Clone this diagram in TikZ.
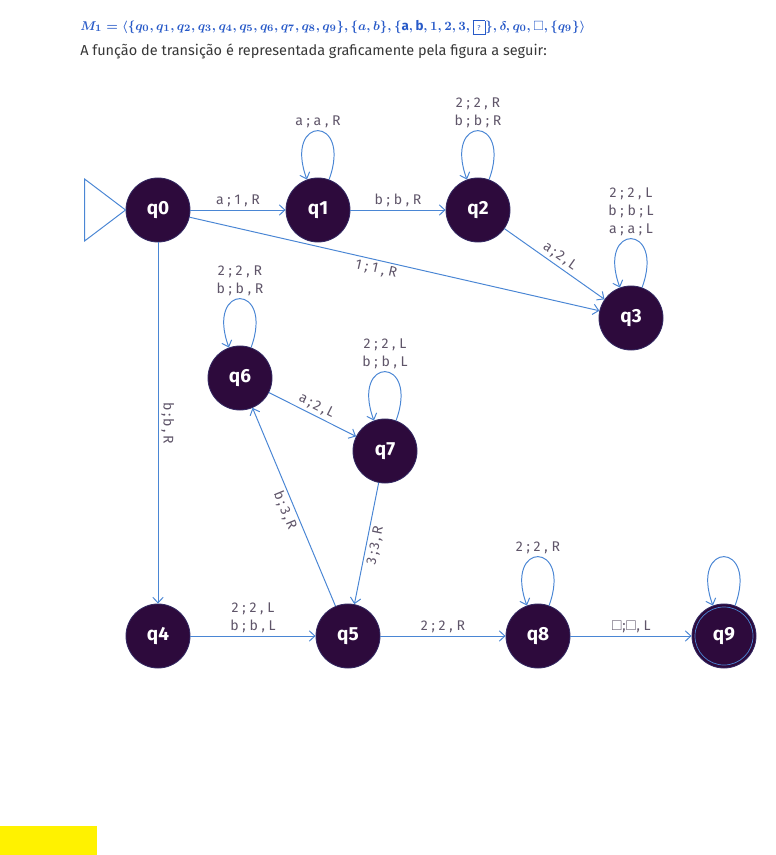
\documentclass[tikz,border=0pt]{standalone}
\usepackage{amsmath,amssymb}
\usepackage{fontspec}
\setmainfont{Fira Sans}
\usepackage{tikz}
\usetikzlibrary{arrows.meta,positioning}
\definecolor{statefill}{RGB}{45,10,60}
\definecolor{edgeblue}{RGB}{74,134,212}
\definecolor{lblgray}{RGB}{95,85,105}
\definecolor{hdrblue}{RGB}{40,90,200}
\definecolor{txtgray}{RGB}{55,55,55}
\tikzset{
  state/.style={circle, draw=statefill!75!edgeblue, line width=0.6pt, fill=statefill,
    text=white, font=\fontsize{13.5}{15}\selectfont\bfseries, minimum size=1.6cm, inner sep=0pt},
  flow/.style={-{Straight Barb[length=1.4mm,width=2.6mm]}, line width=0.7pt, draw=edgeblue},
  lbl/.style={font=\fontsize{10}{12.8}\selectfont, text=lblgray, align=center, inner sep=2pt},
  looptop/.style={out=70, in=110, min distance=8mm, looseness=8}
}
\begin{document}
\begin{tikzpicture}[x=0.025cm, y=-0.025cm]
        \useasboundingbox (0,0) rectangle (776,855);
        % header
        \node[anchor=base west, inner sep=0, text=hdrblue, font=\fontsize{9.5}{11}\selectfont] (title) at (80,30)
          {$\boldsymbol{M_1 = \langle \{q_0, q_1, q_2, q_3, q_4, q_5, q_6, q_7, q_8, q_9\}, \{a, b\}, \{\mathrm{a}, \mathrm{b}, 1, 2, 3, \text{\fbox{\tiny ?}}\}, \delta, q_0, \square, \{q_9\}\rangle}$};
        \node[anchor=base west, inner sep=0, text=txtgray, font=\fontsize{10.3}{12}\selectfont] (intro) at (80,55)
          {A função de transição é representada graficamente pela figura a seguir:};
        % states
        \node[state] (q0) at (158,210) {q0};
        \node[state] (q1) at (318,210) {q1};
        \node[state] (q2) at (478,210) {q2};
        \node[state] (q3) at (631,318) {q3};
        \node[state] (q6) at (240,378) {q6};
        \node[state] (q7) at (385,451) {q7};
        \node[state] (q4) at (158,636) {q4};
        \node[state] (q5) at (348,636) {q5};
        \node[state] (q8) at (538,636) {q8};
        \node[state] (q9) at (724,636) {q9};
        \node[circle, draw=edgeblue, line width=0.5pt, minimum size=1.45cm] (q9ring) at (q9) {};
        % initial arrow
        \draw[flow, -] (q0.west) -- ++(-41,-31) -- ++(0,62) -- cycle;
        % transitions
        \draw[flow] (q0) -- node[lbl, above] {a ; 1 , R} (q1);
        \draw[flow] (q1) -- node[lbl, above] {b ; b , R} (q2);
        \draw[flow] (q2) -- node[lbl, above, sloped] {a\,;\,2\,,\,L} (q3);
        \draw[flow] (q0) -- node[lbl, below, sloped, pos=0.46] {1 ; 1 , R} (q3);
        \draw[flow] (q0) -- node[lbl, rotate=-90, anchor=south] {b\,;\,b\,,\,R} (q4);
        \draw[flow] (q4) -- node[lbl, above] {2 ; 2 , L\\b ; b , L} (q5);
        \draw[flow] (q5) -- node[lbl, above] {2 ; 2 , R} (q8);
        \draw[flow] (q8) -- node[lbl, above] {$\square$;$\square$, L} (q9);
        \draw[flow] (q6) -- node[lbl, above, sloped] {a\,;\,2\,,\,L} (q7);
        \draw[flow] (q5) -- node[lbl, below, sloped] {b\,;\,3\,,\,R} (q6);
        \draw[flow] (q7) -- node[lbl, below, sloped] {3\,;\,3\,,\,R} (q5);
        % loops
        \draw[flow] (q1) to[looptop] node[lbl, above] {a ; a , R} (q1);
        \draw[flow] (q2) to[looptop] node[lbl, above] {2 ; 2 , R\\b ; b ; R} (q2);
        \draw[flow] (q3) to[looptop] node[lbl, above] {2 ; 2 , L\\b ; b ; L\\a ; a ; L} (q3);
        \draw[flow] (q6) to[looptop] node[lbl, above] {2 ; 2 , R\\b ; b , R} (q6);
        \draw[flow] (q7) to[looptop] node[lbl, above] {2 ; 2 , L\\b ; b , L} (q7);
        \draw[flow] (q8) to[looptop] node[lbl, above] {2 ; 2 , R} (q8);
        \draw[flow] (q9) to[looptop] (q9);
        \fill[yellow] (0,826) rectangle (97,855);
    \end{tikzpicture}
\end{document}
